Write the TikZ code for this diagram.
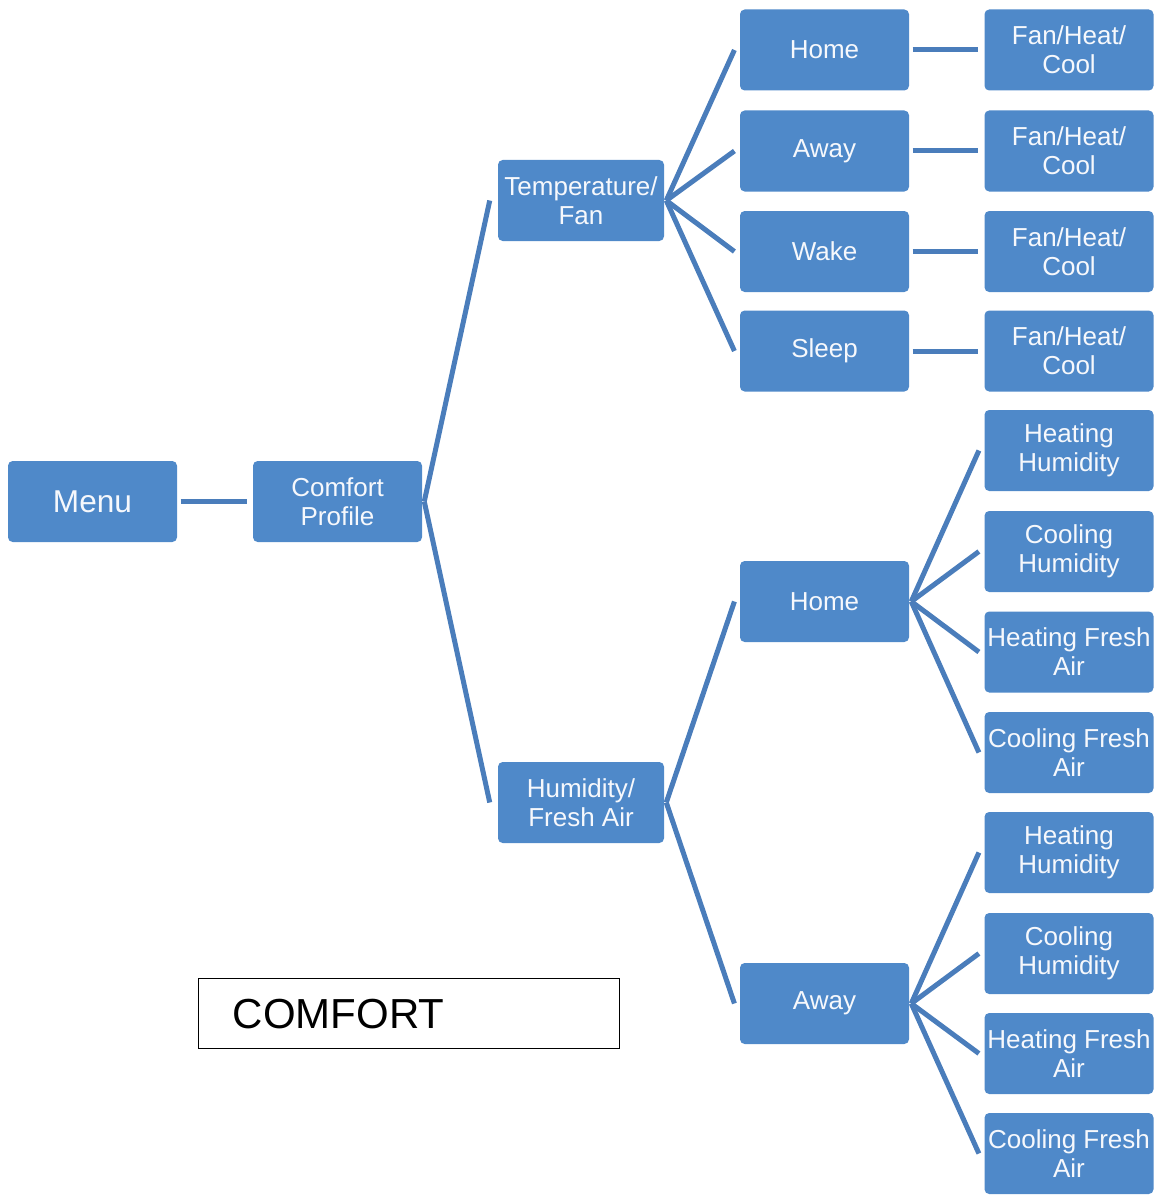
\documentclass[tikz,border=0pt]{standalone}
\usepackage{fontspec}
\setmainfont{Liberation Sans}
\definecolor{boxblue}{HTML}{4F89C9}
\definecolor{linkblue}{HTML}{4A7DBB}
\definecolor{boxtext}{HTML}{F6F8FC}
\begin{document}
\begin{tikzpicture}[x=0.75pt,y=-0.75pt,
  item/.style={fill=boxblue, rounded corners=3.5pt, text=boxtext, align=center,
    minimum width=126.75pt, minimum height=60.75pt, inner sep=1pt,
    font=\fontsize{19.5}{21.75}\selectfont},
  midbox/.style={item, minimum width=124.5pt},
  link/.style={draw=linkblue, line width=3.75pt},
  every node/.style={}]
\useasboundingbox (0,0) rectangle (1160,1195);

% level 0 and 1
\node[item, font=\fontsize{23.7}{26}\selectfont] (menu) at (92.5,501.5) {Menu};
\node[item] (comfort) at (337.5,501.5) {Comfort\\Profile};

% level 2
\node[midbox] (temp) at (581,200.5) {Temperature/\\Fan};
\node[midbox] (hum) at (581,802.5) {Humidity/\\Fresh Air};

% temperature branch
\node[item] (thome)  at (824.5,50)  {Home};
\node[item] (taway)  at (824.5,151) {Away};
\node[item] (twake)  at (824.5,251.5) {Wake};
\node[item] (tsleep) at (824.5,351) {Sleep};
\node[item] (f1) at (1069,50)    {Fan/Heat/\\Cool};
\node[item] (f2) at (1069,151)   {Fan/Heat/\\Cool};
\node[item] (f3) at (1069,251.5) {Fan/Heat/\\Cool};
\node[item] (f4) at (1069,351)   {Fan/Heat/\\Cool};

% humidity branch
\node[item] (hhome) at (824.5,601.5)  {Home};
\node[item] (haway) at (824.5,1003.5) {Away};
\node[item] (h1) at (1069,450.5)  {Heating\\Humidity};
\node[item] (h2) at (1069,551.5)  {Cooling\\Humidity};
\node[item] (h3) at (1069,652)    {Heating Fresh\\Air};
\node[item] (h4) at (1069,752.5)  {Cooling Fresh\\Air};
\node[item] (a1) at (1069,852.5)  {Heating\\Humidity};
\node[item] (a2) at (1069,953.5)  {Cooling\\Humidity};
\node[item] (a3) at (1069,1053.5) {Heating Fresh\\Air};
\node[item] (a4) at (1069,1153.5) {Cooling Fresh\\Air};

% title box
\node[draw=black, line width=1.1pt, anchor=north west, minimum height=52.5pt,
  inner xsep=25.5pt, text width=264.75pt, align=left,
  font=\fontsize{31.5}{34}\selectfont] (title) at (198,978) {COMFORT};

% connectors
\draw[link] ([xshift=2.5pt]menu.east) -- ([xshift=-4.5pt]comfort.west);
\foreach \c in {temp,hum}
  \draw[link] ([xshift=1.5pt]comfort.east) -- ([xshift=-6pt]\c.west);
\foreach \c in {thome,taway,twake,tsleep}
  \draw[link] ([xshift=1.5pt]temp.east) -- ([xshift=-4pt]\c.west);
\foreach \c in {hhome,haway}
  \draw[link] ([xshift=1.5pt]hum.east) -- ([xshift=-4pt]\c.west);
\foreach \p/\c in {thome/f1,taway/f2,twake/f3,tsleep/f4}
  \draw[link] ([xshift=2.5pt]\p.east) -- ([xshift=-5pt]\c.west);
\foreach \c in {h1,h2,h3,h4}
  \draw[link] ([xshift=1.5pt]hhome.east) -- ([xshift=-4pt]\c.west);
\foreach \c in {a1,a2,a3,a4}
  \draw[link] ([xshift=1.5pt]haway.east) -- ([xshift=-4pt]\c.west);
\end{tikzpicture}
\end{document}
